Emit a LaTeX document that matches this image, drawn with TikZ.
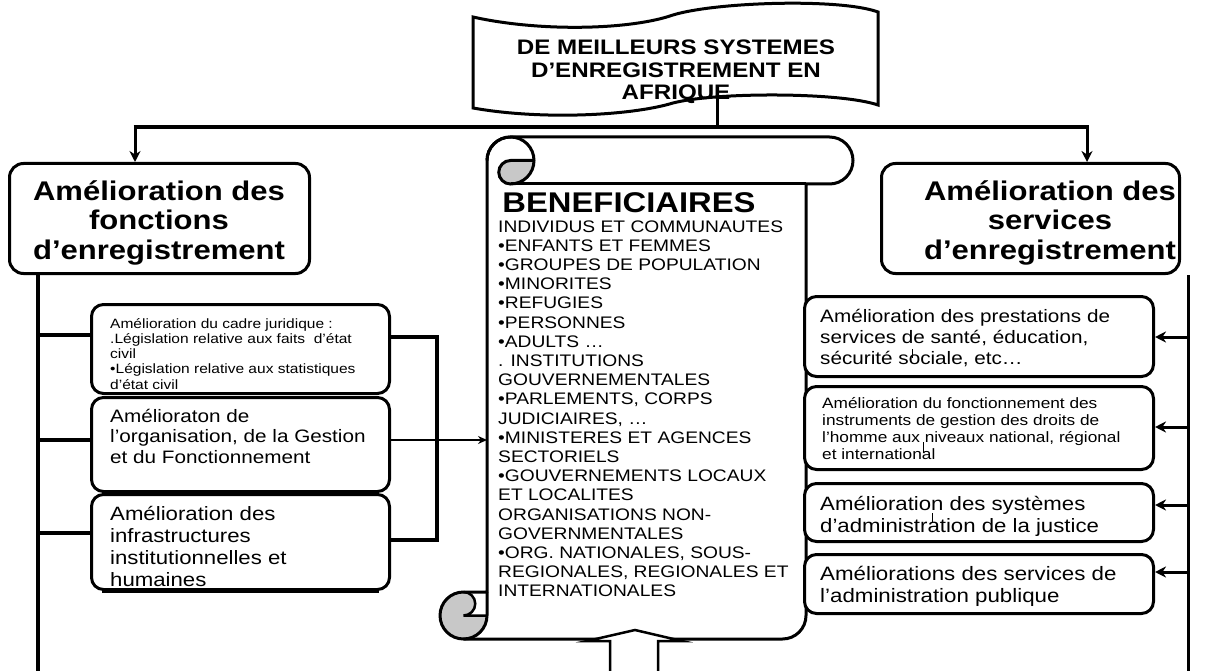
\documentclass[tikz,border=0pt]{standalone}
\usepackage{fontspec}
\setmainfont{Liberation Sans}[FakeStretch=1.15]
\usetikzlibrary{arrows.meta}
\newcommand\fsz[2]{\fontsize{#1}{#2}\selectfont}
\definecolor{curlgray}{RGB}{200,200,200}
\begin{document}
\begin{tikzpicture}[x=1pt,y=1pt,yscale=-1,
  box/.style={draw, line width=3pt, rounded corners=12pt, fill=white, inner sep=0pt, anchor=north west},
  txt/.style={inner sep=0pt, align=left, anchor=base west},
  ln/.style={line width=3.5pt},
  arr/.style={line width=3pt, -{Stealth[length=11pt,width=11pt]}},
  thinarr/.style={line width=2pt, -{Stealth[length=9pt,width=8pt]}},
]
\useasboundingbox (0,0) rectangle (1217,671);

% ---------------- banner ----------------
\def\bannerpath{(473,17) .. controls (540,32) and (630,30) .. (673,15) .. controls (715,2) and (840,-2) .. (878,12) -- (878,105) .. controls (840,92) and (715,92) .. (673,103) .. controls (630,116) and (540,120) .. (473,108) -- cycle}
\fill[white] \bannerpath;
% anchors of multi-line texts are at the baseline of their LAST line
\node[inner sep=0pt, align=center, anchor=base, font=\bfseries\fsz{21}{22.5}] (title) at (676,100)
  {DE MEILLEURS SYSTEMES\\D’ENREGISTREMENT EN\\AFRIQUE};
\draw[line width=3pt] \bannerpath;

% ---------------- heading boxes ----------------
\node[box, rounded corners=14pt, minimum width=300pt, minimum height=110pt] (lh) at (8,162) {};
\node[box, rounded corners=14pt, minimum width=298pt, minimum height=110pt] (rh) at (880,162) {};
\node[inner sep=0pt, align=center, anchor=base, font=\bfseries\fsz{27}{29.5}] (lht) at (159,259)
  {Amélioration des\\fonctions\\d’enregistrement};
\node[inner sep=0pt, align=center, anchor=base, font=\bfseries\fsz{27}{29.5}] (rht) at (1050,259)
  {Amélioration des\\services\\d’enregistrement};

% ---------------- top connectors ----------------
\coordinate (bb) at (717,99);
\coordinate (hj) at (717,127);
\coordinate (hl) at (135,127);
\coordinate (hr) at (1087,127);
\draw[line width=3pt] (bb) -- (hj);
\draw[line width=4.5pt] ([xshift=-1.5pt]hl) -- ([xshift=1.5pt]hr);
\draw[arr] (hl) -- (hl |- lh.north);
\draw[arr] (hr) -- (hr |- rh.north);

% ---------------- scroll (BENEFICIAIRES) ----------------
\def\scrollpath{(487,592) -- (487,160.5) arc[start angle=180,end angle=270,radius=23.5pt] -- (829.5,137) arc[start angle=270,end angle=450,radius=23.5pt] -- (806,184) -- (806,615.5) arc[start angle=0,end angle=90,radius=23.5pt] -- (463.5,639) arc[start angle=90,end angle=270,radius=23.5pt] -- cycle}
\fill[white] \scrollpath;
% top curl shading
\fill[curlgray] (534,160.5) arc[start angle=0,end angle=90,radius=23.5pt] arc[start angle=90,end angle=270,radius=11.75pt] -- cycle;
% bottom curl shading
\fill[curlgray] (463.5,615.5) circle[radius=23.5pt];
\fill[white] (463.5,592) -- (487,592) -- (487,615.5) -- (463.5,615.5) arc[start angle=90,end angle=-90,radius=11.75pt] -- cycle;
\draw[line width=3pt, line join=round] \scrollpath;
\draw[line width=3pt] (487,160.5) arc[start angle=180,end angle=450,radius=23.5pt] arc[start angle=90,end angle=270,radius=11.75pt] -- (534,160.5);
\draw[line width=3pt] (510.5,184) -- (806,184);
\draw[line width=3pt] (487,592) -- (487,615.5) arc[start angle=0,end angle=90,radius=23.5pt];
\draw[line width=2.5pt] (463.5,592) arc[start angle=-90,end angle=90,radius=11.75pt] -- (487,615.5);
\coordinate (sl) at (487,440);

% block arrow entering the scroll from below
\filldraw[fill=white, line width=2.5pt, line join=miter] (610,680) -- (610,641) -- (587,641) -- (635,630) -- (682,641) -- (658,641) -- (658,680);

\node[inner sep=0pt, anchor=base, font=\bfseries\fsz{28.5}{30}] (benef) at (629,212) {BENEFICIAIRES};
\node[txt, font=\fsz{16.7}{19.2}] (blist) at (498,596.8)
  {INDIVIDUS ET COMMUNAUTES\\
   •ENFANTS ET FEMMES\\
   •GROUPES DE POPULATION\\
   •MINORITES\\
   •REFUGIES\\
   •PERSONNES\\
   •ADULTS …\\
   . INSTITUTIONS\\
   GOUVERNEMENTALES\\
   •PARLEMENTS, CORPS\\
   JUDICIAIRES, …\\
   •MINISTERES ET AGENCES\\
   SECTORIELS\\
   •GOUVERNEMENTS LOCAUX\\
   ET LOCALITES\\
   ORGANISATIONS NON-\\
   GOVERNMENTALES\\
   •ORG. NATIONALES, SOUS-\\
   REGIONALES, REGIONALES ET\\
   INTERNATIONALES};

% ---------------- left sub boxes ----------------
\node[box, minimum width=298pt, minimum height=89pt] (b1) at (90,303) {};
\node[box, minimum width=298pt, minimum height=94pt] (b2) at (90,396) {};
\node[box, minimum width=298pt, minimum height=95pt] (b3) at (90,493) {};
\node[txt, font=\fsz{13.5}{15.3}] (b1t) at (110,389.2)
  {Amélioration du cadre juridique :\\
   .Législation relative aux faits\ \ d’état\\
   civil\\
   •Législation relative aux statistiques\\
   d’état civil};
\node[txt, font=\fsz{18}{20.7}] (b2t) at (110,463.4)
  {Amélioraton de\\l’organisation, de la Gestion\\et du Fonctionnement};
\node[txt, font=\fsz{19.3}{22.3}] (b3t) at (110,586.9)
  {Amélioration des\\infrastructures\\institutionnelles et\\humaines};
% box border passes over the overflowing last line
\draw[line width=3pt] ([xshift=12pt]b3.south west) -- ([xshift=-12pt]b3.south east);

% left connectors
\coordinate (lv) at (38,272);
\coordinate (lvend) at (38,671);
\coordinate (ya) at (0,335);
\coordinate (yb) at (0,440);
\coordinate (yc) at (0,533);
\draw[ln] (lv) -- (lvend);
\draw[ln] (lv |- ya) -- (b1.west |- ya);
\draw[ln] (lv |- yb) -- (b2.west |- yb);
\draw[ln] (lv |- yc) -- (b3.west |- yc);
% right bracket
\coordinate (brx) at (437,0);
\coordinate (ba) at (0,337);
\coordinate (bc) at (0,540);
\draw[ln, line join=miter] (b1.east |- ba) -| (brx |- bc) -- (b3.east |- bc);
\draw[thinarr] (b2.east |- yb) -- (sl);

% ---------------- right sub boxes ----------------
\node[box, minimum width=349pt, minimum height=80pt] (r1) at (803,295) {};
\node[box, minimum width=349pt, minimum height=83pt] (r2) at (803,385) {};
\node[box, minimum width=349pt, minimum height=58pt] (r3) at (803,482) {};
\node[box, minimum width=349pt, minimum height=59pt] (r4) at (803,553) {};
\node[txt, font=\fsz{18}{21}] (r1t) at (820,364)
  {Amélioration des prestations de\\services de santé, éducation,\\sécurité sociale, etc…};
\node[txt, font=\fsz{15}{17.3}] (r2t) at (822,459.9)
  {Amélioration du fonctionnement des\\instruments de gestion des droits de\\l’homme aux niveaux national, régional\\et international};
\node[txt, font=\fsz{19.3}{22}] (r3t) at (820,532)
  {Amélioration des systèmes\\d’administration de la justice};
\node[txt, font=\fsz{19.4}{22}] (r4t) at (820,602)
  {Améliorations des services de\\l’administration publique};
% stray marks
\draw[line width=1pt] (912,349) -- (912,358);
\draw[line width=1pt] (923,442) -- (923,453);
\draw[line width=1pt] (932,513) -- (932,523);

% right connectors
\coordinate (rv) at (1188,275);
\coordinate (rvend) at (1188,671);
\coordinate (y1) at (0,337);
\coordinate (y2) at (0,427);
\coordinate (y3) at (0,505);
\coordinate (y4) at (0,572);
\draw[line width=3pt] (rv) -- (rvend);
\draw[arr] (rv |- y1) -- (r1.east |- y1);
\draw[arr] (rv |- y2) -- (r2.east |- y2);
\draw[arr] (rv |- y3) -- (r3.east |- y3);
\draw[arr] (rv |- y4) -- (r4.east |- y4);
\end{tikzpicture}
\end{document}
